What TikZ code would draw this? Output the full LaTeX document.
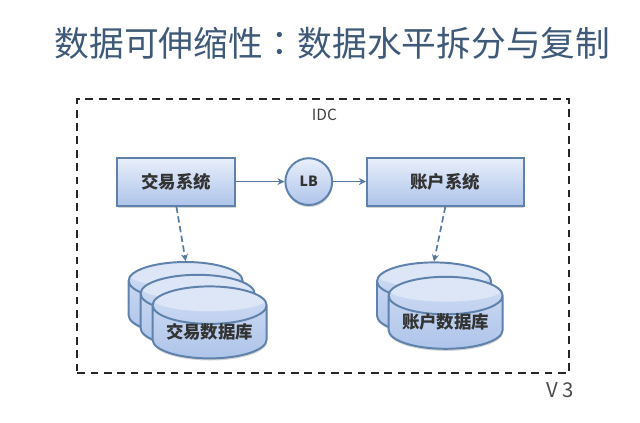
\documentclass[tikz,border=0pt]{standalone}
\usepackage{fontspec}
\setmainfont{Noto Sans CJK SC}
\newfontfamily\colonfont{Noto Sans CJK TC}
\usepackage{tikz}
\usetikzlibrary{arrows.meta, positioning, shapes.geometric, shadows}
\definecolor{TitleInk}{HTML}{3F5A78}
\definecolor{EdgeBlue}{HTML}{5F82AC}
\definecolor{LinkBlue}{HTML}{557A9E}
\definecolor{FillTop}{HTML}{E9EFFB}
\definecolor{FillBot}{HTML}{AEC4EA}
\definecolor{EndFill}{HTML}{DCE6F7}

\begin{document}
\begin{tikzpicture}[
  >=Stealth,
  softshadow/.style={drop shadow={opacity=0.35, shadow xshift=0.3pt, shadow yshift=-1.5pt}},
  sysbox/.style={draw=EdgeBlue, line width=1.4pt, top color=FillTop, bottom color=FillBot,
    minimum height=1.2cm, align=center, font=\fontsize{12.4pt}{14pt}\selectfont\bfseries, text=black!80,
    softshadow},
  lbnode/.style={circle, draw=EdgeBlue, line width=1.4pt, top color=FillTop, bottom color=FillBot,
    minimum size=1.17cm, inner sep=0pt, font=\fontsize{10pt}{12pt}\selectfont\bfseries, text=black!80,
    softshadow},
  dbnode/.style={cylinder, shape border rotate=90, aspect=0.37, draw=EdgeBlue, line width=1.4pt,
    top color=FillTop!60!FillBot, bottom color=FillBot, anchor=shape center,
    minimum width=2.85cm, minimum height=1.8cm, align=center, inner ysep=0pt,
    text width=2.3cm, text height=0.25cm, text depth=0.15cm,
    font=\fontsize{12.4pt}{14pt}\selectfont\bfseries, text=black!80,
    path picture={\fill[EndFill] ([yshift=-0.31cm]path picture bounding box.north)
      ellipse [x radius=1.43cm, y radius=0.31cm];},
    softshadow},
  arr/.style={->, line width=1.2pt, LinkBlue, >={Stealth[length=5pt, width=5pt]}},
  dasharr/.style={arr, dash pattern=on 4.5pt off 2.5pt, line width=1.2pt},
]
\useasboundingbox (0,0) rectangle (16,10.55);

% Title
\node[font=\fontsize{24.7pt}{28pt}\selectfont, TitleInk, inner sep=0pt] (title) at (8.31,9.47)
  {数据可伸缩性{\colonfont\char"FF1A}数据水平拆分与复制};

% IDC frame
\node[draw=black!85, line width=1.3pt, dash pattern=on 5.5pt off 4pt, minimum width=12.3cm, minimum height=6.85cm] (idc) at (8.08,4.65) {};
\node[font=\fontsize{11pt}{13pt}\selectfont, text=black!75, below=0.15cm of idc.north, xshift=0.03cm] (idclabel) {IDC};
\node[font=\fontsize{14.5pt}{16pt}\selectfont, text=black!70] (version) at (14.0,0.8) {V 3};

% Systems
\node[sysbox, minimum width=2.95cm] (tradesys) at (4.41,6.01) {交易系统};
\node[lbnode, right=1.2cm of tradesys] (lb) {LB};
\node[sysbox, minimum width=3.92cm, right=0.82cm of lb] (acctsys) {账户系统};

% Databases
\node[dbnode] (tradedbc) at (4.64,3.10) {};
\node[dbnode] (tradedbb) at (4.94,2.78) {};
\node[dbnode] (tradedba) at (5.24,2.49) {交易数据库};
\node[dbnode] (acctdbb) at (10.85,3.09) {};
\node[dbnode] (acctdba) at (11.14,2.73) {账户数据库};

\draw[arr] (tradesys) -- (lb);
\draw[arr] (lb) -- (acctsys);
\draw[dasharr] (tradesys.south) -- (tradedbc.north);
\draw[dasharr] (acctsys.south) -- (acctdbb.north);

\end{tikzpicture}
\end{document}
